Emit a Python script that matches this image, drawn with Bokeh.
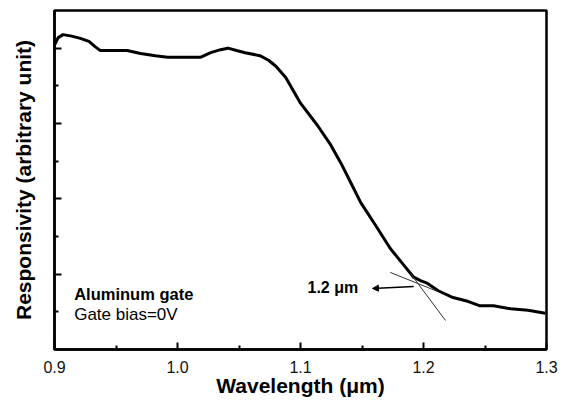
from bokeh.plotting import figure
from bokeh.models import FixedTicker, Range1d, Arrow, NormalHead, Label, NumeralTickFormatter, CustomJSTickFormatter
from bokeh.embed import file_html
from bokeh.resources import INLINE

# Spectral responsivity curve
wavelength = [0.900, 0.903, 0.907, 0.914, 0.921, 0.928, 0.933, 0.937, 0.946, 0.959, 0.970, 0.982,
              0.992, 1.002, 1.015, 1.019, 1.027, 1.035, 1.041, 1.048, 1.055, 1.067, 1.074, 1.080, 1.088,
              1.100, 1.114, 1.124, 1.133, 1.141, 1.149, 1.161, 1.173, 1.183, 1.192, 1.198, 1.203, 1.212,
              1.224, 1.236, 1.246, 1.257, 1.271, 1.285, 1.299]
responsivity = [4.04, 4.14, 4.18, 4.16, 4.13, 4.09, 4.02, 3.97, 3.97, 3.97, 3.93, 3.90,
                3.88, 3.88, 3.88, 3.88, 3.94, 3.98, 4.00, 3.97, 3.94, 3.90, 3.84, 3.76, 3.61,
                3.27, 2.97, 2.73, 2.47, 2.21, 1.95, 1.65, 1.34, 1.14, 0.96, 0.91, 0.88, 0.78,
                0.69, 0.64, 0.58, 0.58, 0.54, 0.52, 0.48]

x_ticks = [0.9, 1.0, 1.1, 1.2, 1.3]
x_minor = [0.95, 1.05, 1.15, 1.25]
y_ticks = [1, 2, 3, 4]
y_minor = [0.5, 1.5, 2.5, 3.5]

# cut-off construction lines and arrow
tangent1_x = [1.173, 1.2115]
tangent1_y = [1.023, 0.77]
tangent2_x = [1.1894, 1.2179]
tangent2_y = [1.009, 0.385]
arrow_x = [1.192, 1.1585]
arrow_y = [0.837, 0.810]

FONT = "Liberation Sans"

p = figure(frame_width=492, frame_height=339,
           x_range=Range1d(0.9, 1.3), y_range=Range1d(0, 4.5),
           output_backend="svg", toolbar_location=None,
           min_border_left=54, min_border_right=12, min_border_top=10, min_border_bottom=48)

p.line(wavelength, responsivity, line_color="black", line_width=3, line_join="round")
p.line(tangent1_x, tangent1_y, line_color="#333333", line_width=1)
p.line(tangent2_x, tangent2_y, line_color="#333333", line_width=1)
p.add_layout(Arrow(end=NormalHead(size=6, fill_color="black", line_color="black"),
                   x_start=arrow_x[0], y_start=arrow_y[0], x_end=arrow_x[1], y_end=arrow_y[1],
                   line_color="black", line_width=1.5))

p.add_layout(Label(x=1.1057, y=0.82, text="1.2 \u03bcm", text_font=FONT, text_font_style="bold",
                   text_font_size="16px", text_baseline="middle", text_color="black"))
p.add_layout(Label(x=0.916, y=0.74, text="Aluminum gate", text_font=FONT, text_font_style="bold",
                   text_font_size="16.5px", text_baseline="middle", text_color="black"))
p.add_layout(Label(x=0.916, y=0.47, text="Gate bias=0V", text_font=FONT,
                   text_font_size="17px", text_baseline="middle", text_color="black"))

p.xgrid.visible = False
p.ygrid.visible = False
p.outline_line_color = "black"
p.outline_line_width = 2.5
p.outline_line_alpha = 1

p.xaxis.ticker = FixedTicker(ticks=x_ticks, minor_ticks=x_minor)
p.yaxis.ticker = FixedTicker(ticks=y_ticks, minor_ticks=y_minor)
for ax in (p.xaxis[0], p.yaxis[0]):
    ax.axis_line_width = 2.5
    ax.axis_line_color = "black"
    ax.major_tick_in = 7
    ax.major_tick_out = 0
    ax.minor_tick_in = 4
    ax.minor_tick_out = 0
    ax.major_tick_line_width = 2
    ax.minor_tick_line_width = 2
    ax.major_tick_line_color = "black"
    ax.minor_tick_line_color = "black"
    ax.axis_label_text_font = FONT
    ax.axis_label_text_font_style = "bold"
    ax.axis_label_text_font_size = "21px"
    ax.axis_label_text_color = "black"
    ax.major_label_text_font = FONT

p.xaxis.axis_label = "Wavelength (\u03bcm)"
p.xaxis.formatter = NumeralTickFormatter(format="0.0")
p.xaxis.major_label_text_font_size = "16px"
p.xaxis.major_label_text_color = "#111111"
p.xaxis.major_label_standoff = 11
p.xaxis.axis_label_standoff = -2

p.yaxis.axis_label = "Responsivity (arbitrary unit)"
p.yaxis.formatter = CustomJSTickFormatter(code="return ''")
p.yaxis.major_label_standoff = 0
p.yaxis.axis_label_standoff = 20

open("out.html", "w").write(file_html(p, INLINE))
